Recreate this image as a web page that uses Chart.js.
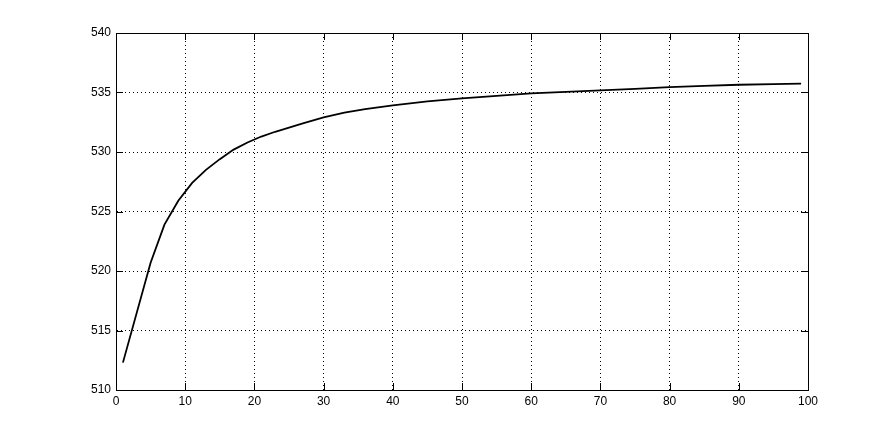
<!DOCTYPE html>
<html>
<head>
<meta charset="utf-8">
<script src="https://cdn.jsdelivr.net/npm/chart.js@4/dist/chart.umd.min.js"></script>
<style>
  html, body { margin: 0; padding: 0; background: #fff; }
  #wrap { width: 893px; height: 437px; position: relative; }
</style>
</head>
<body>
<div id="wrap"><canvas id="curveChart"></canvas></div>
<script>
'use strict';

var xValues = [1, 5, 7, 9, 11, 13, 15, 17, 19, 21, 23, 25, 27, 30, 33, 36, 40, 45, 50, 55, 60, 65, 70, 75, 80, 85, 90, 95, 99];
var yValues = [512.3, 520.7, 523.9, 525.9, 527.4, 528.5, 529.4, 530.2, 530.8, 531.3, 531.7, 532.05, 532.4, 532.9,
  533.3, 533.6, 533.92, 534.25, 534.5, 534.72, 534.92, 535.05, 535.18, 535.3, 535.45, 535.55, 535.65, 535.7, 535.75];
var xTicks = [0, 10, 20, 30, 40, 50, 60, 70, 80, 90, 100];
var yTicks = [510, 515, 520, 525, 530, 535, 540];

var points = xValues.map(function (x, i) { return { x: x, y: yValues[i] }; });

// box round the plot area plus short inward ticks on all four sides
var boxAndTicks = {
  id: 'boxAndTicks',
  afterDraw: function (chart) {
    var ctx = chart.ctx;
    var a = chart.chartArea;
    var xs = chart.scales.x, ys = chart.scales.y;
    var len = 7;
    ctx.save();
    ctx.strokeStyle = '#000';
    ctx.lineWidth = 1;
    ctx.beginPath();
    xTicks.forEach(function (v) {
      var px = Math.round(xs.getPixelForValue(v)) + 0.5;
      ctx.moveTo(px, a.bottom); ctx.lineTo(px, a.bottom - len);
      ctx.moveTo(px, a.top); ctx.lineTo(px, a.top + len);
    });
    yTicks.forEach(function (v) {
      var py = Math.round(ys.getPixelForValue(v)) + 0.5;
      ctx.moveTo(a.left, py); ctx.lineTo(a.left + len, py);
      ctx.moveTo(a.right, py); ctx.lineTo(a.right - len, py);
    });
    ctx.stroke();
    ctx.strokeRect(Math.round(a.left) + 0.5, Math.round(a.top) + 0.5,
      Math.round(a.right - a.left), Math.round(a.bottom - a.top));
    ctx.restore();
  }
};

new Chart(document.getElementById('curveChart').getContext('2d'), {
  type: 'line',
  data: {
    datasets: [{
      data: points,
      borderColor: '#000',
      borderWidth: 1.8,
      pointRadius: 0,
      tension: 0,
      fill: false
    }]
  },
  options: {
    animation: false,
    responsive: true,
    maintainAspectRatio: false,
    layout: { padding: { left: 0, top: 33, right: 85, bottom: 0 } },
    plugins: { legend: { display: false }, tooltip: { enabled: false } },
    scales: {
      x: {
        type: 'linear',
        min: 0, max: 100,
        afterFit: function (s) { s.height = 47; },
        afterBuildTicks: function (s) { s.ticks = xTicks.map(function (v) { return { value: v }; }); },
        ticks: { color: '#000', padding: 4, maxRotation: 0, font: { family: 'Liberation Sans', size: 12 } },
        grid: { color: '#000', lineWidth: 1, drawTicks: false },
        border: { color: '#000', dash: [1, 3] }
      },
      y: {
        min: 510, max: 540,
        afterFit: function (s) { s.width = 116; },
        afterBuildTicks: function (s) { s.ticks = yTicks.map(function (v) { return { value: v }; }); },
        ticks: { color: '#000', padding: 5, font: { family: 'Liberation Sans', size: 12 } },
        grid: { color: '#000', lineWidth: 1, drawTicks: false },
        border: { color: '#000', dash: [1, 3] }
      }
    }
  },
  plugins: [boxAndTicks]
});
</script>
</body>
</html>
